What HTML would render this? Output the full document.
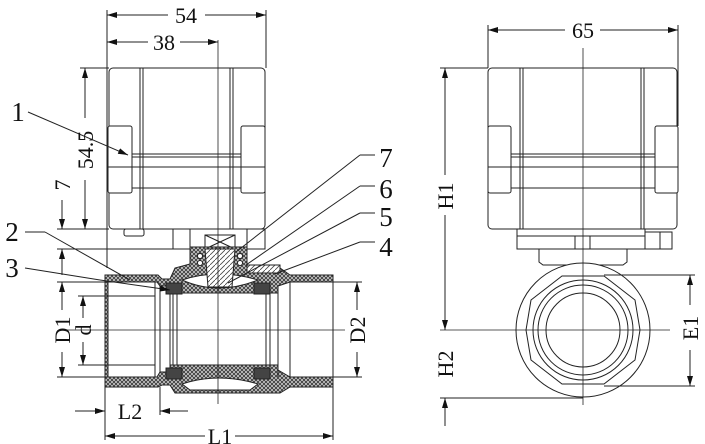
<!DOCTYPE html>
<html><head><meta charset="utf-8"><style>
html,body{margin:0;padding:0;background:#fff;width:705px;height:444px;overflow:hidden}
svg{display:block}
text{font-family:"Liberation Serif",serif;fill:#111}
</style></head><body>
<svg width="705" height="444" viewBox="0 0 705 444" xmlns="http://www.w3.org/2000/svg">
<defs>
<pattern id="h" width="4" height="4" patternUnits="userSpaceOnUse">
<rect width="4" height="4" fill="#ccc"/>
<path d="M0 4L4 0M0 0L4 4" stroke="#333" stroke-width="0.8"/>
</pattern>
<pattern id="s" width="5" height="5" patternUnits="userSpaceOnUse">
<rect width="5" height="5" fill="#fff"/>
<path d="M0 5L5 0" stroke="#444" stroke-width="0.8"/>
</pattern>
<marker id="a" viewBox="0 0 10 6" refX="10" refY="3" markerWidth="10" markerHeight="6" orient="auto-start-reverse" markerUnits="userSpaceOnUse">
<path d="M0 0L10 3L0 6z" fill="#111"/>
</marker>
</defs>
<g stroke="#222" fill="none" stroke-width="1">
<!-- LEFT VIEW ACTUATOR -->
<rect x="109" y="68" width="156" height="161" rx="4"/>
<line x1="140" y1="68" x2="140" y2="229"/><line x1="143" y1="68" x2="143" y2="229"/>
<line x1="230" y1="68" x2="230" y2="229"/><line x1="233" y1="68" x2="233" y2="229"/>
<rect x="108" y="126" width="24" height="67" rx="2" fill="#fff"/>
<rect x="241" y="126" width="24" height="67" rx="2" fill="#fff"/>
<line x1="132" y1="154" x2="241" y2="154"/><line x1="132" y1="157" x2="241" y2="157"/>
<line x1="108" y1="167" x2="265" y2="167"/><line x1="132" y1="188" x2="241" y2="188"/>
<rect x="124" y="229" width="20" height="7" rx="2"/>
<!-- mount -->
<rect x="173" y="229" width="92" height="20"/>
<line x1="190" y1="229" x2="190" y2="249"/><line x1="247" y1="229" x2="247" y2="249"/>
<rect x="205" y="235" width="30" height="14"/>
<line x1="205" y1="235" x2="235" y2="249"/><line x1="235" y1="235" x2="205" y2="249"/>
<!-- BODY -->
<path d="M105 275 L158 275 L162 279 L170 279 L175 268 L190 264 L190 247 L247 247 L247 268 L280 268 L290 275 L333 275 L333 387 L290 387 L280 393 L175 393 L170 385 L162 385 L158 387 L105 387 Z" fill="url(#h)" stroke="#222"/>
<path d="M108 282 L157 282 L160 286 L170 286 L170 293 L278 293 L278 286 L290 282 L333 282 L333 377 L290 377 L278 370 L278 365 L170 365 L170 372 L160 372 L157 377 L108 377 Z" fill="#fff"/>
<line x1="108" y1="282" x2="108" y2="377"/><line x1="155" y1="282" x2="155" y2="377"/>
<line x1="160" y1="286" x2="160" y2="372"/><line x1="170" y1="286" x2="170" y2="372"/>
<line x1="278" y1="286" x2="278" y2="377"/><line x1="290" y1="282" x2="290" y2="377"/>
<line x1="173" y1="293" x2="173" y2="365"/><line x1="177" y1="293" x2="177" y2="365"/>
<line x1="266" y1="293" x2="266" y2="365"/><line x1="270" y1="293" x2="270" y2="365"/>
<!-- ball cavities -->
<path d="M182 280 Q218 296 258 280 Q218 268 182 280 Z" fill="#fff"/>
<path d="M182 384 Q218 372 258 384 L250 390 L190 390 Z" fill="#fff"/>
<!-- seats -->
<rect x="166" y="283" width="16" height="11" fill="#444"/>
<rect x="254" y="283" width="16" height="11" fill="#444"/>
<rect x="166" y="368" width="16" height="11" fill="#444"/>
<rect x="254" y="368" width="16" height="11" fill="#444"/>
<!-- stem -->
<path d="M205 249 L235 249 L232 287 L208 287 Z" fill="url(#s)"/>
<circle cx="200" cy="256" r="2.5" fill="#fff"/><circle cx="200" cy="263" r="2.5" fill="#fff"/>
<circle cx="240" cy="256" r="2.5" fill="#fff"/><circle cx="240" cy="263" r="2.5" fill="#fff"/>
<rect x="247" y="265" width="33" height="8" fill="url(#s)"/>
<!-- center lines -->
<line x1="218" y1="40" x2="218" y2="404" stroke-width="0.8"/>
<line x1="62" y1="330" x2="345" y2="330" stroke-width="0.8"/>
<!-- dims left -->
<line x1="107" y1="10" x2="107" y2="268"/><line x1="266" y1="10" x2="266" y2="68"/>
<line x1="107" y1="15" x2="168" y2="15" marker-start="url(#a)"/><line x1="205" y1="15" x2="266" y2="15" marker-end="url(#a)"/>
<line x1="107" y1="42" x2="148" y2="42" marker-start="url(#a)"/><line x1="180" y1="42" x2="218" y2="42" marker-end="url(#a)"/>
<line x1="80" y1="68" x2="109" y2="68"/><line x1="57" y1="229" x2="109" y2="229"/><line x1="57" y1="249" x2="173" y2="249"/>
<line x1="85" y1="68" x2="85" y2="118" marker-start="url(#a)"/><line x1="85" y1="180" x2="85" y2="229" marker-end="url(#a)"/>
<line x1="62" y1="200" x2="62" y2="229" marker-end="url(#a)"/><line x1="62" y1="249" x2="62" y2="275" marker-start="url(#a)"/>
<line x1="57" y1="282" x2="108" y2="282"/><line x1="57" y1="377" x2="108" y2="377"/>
<line x1="62" y1="282" x2="62" y2="310" marker-start="url(#a)"/><line x1="62" y1="352" x2="62" y2="377" marker-end="url(#a)"/>
<line x1="78" y1="296" x2="155" y2="296"/><line x1="78" y1="365" x2="155" y2="365"/>
<line x1="83" y1="296" x2="83" y2="318" marker-start="url(#a)"/><line x1="83" y1="342" x2="83" y2="365" marker-end="url(#a)"/>
<line x1="333" y1="282" x2="362" y2="282"/><line x1="333" y1="377" x2="362" y2="377"/>
<line x1="357" y1="282" x2="357" y2="310" marker-start="url(#a)"/><line x1="357" y1="352" x2="357" y2="377" marker-end="url(#a)"/>
<line x1="105" y1="387" x2="105" y2="440"/><line x1="160" y1="387" x2="160" y2="415"/><line x1="333" y1="387" x2="333" y2="440"/>
<line x1="75" y1="411" x2="105" y2="411" marker-end="url(#a)"/><line x1="160" y1="411" x2="188" y2="411" marker-start="url(#a)"/>
<line x1="105" y1="436" x2="205" y2="436" marker-start="url(#a)"/><line x1="235" y1="436" x2="333" y2="436" marker-end="url(#a)"/>
<!-- leaders -->
<line x1="28" y1="112" x2="128" y2="155" marker-end="url(#a)"/>
<line x1="25" y1="232" x2="45" y2="232"/><line x1="45" y1="232" x2="130" y2="280"/>
<line x1="25" y1="268" x2="100" y2="280"/><line x1="100" y1="280" x2="170" y2="290" marker-end="url(#a)"/>
<line x1="375" y1="155" x2="360" y2="155"/><line x1="360" y1="155" x2="236" y2="252"/>
<line x1="375" y1="186" x2="360" y2="186"/><line x1="360" y1="186" x2="246" y2="265"/>
<line x1="375" y1="213" x2="360" y2="213"/><line x1="360" y1="213" x2="228" y2="283"/>
<line x1="375" y1="242" x2="360" y2="242"/><line x1="360" y1="242" x2="275" y2="274"/>
<!-- RIGHT VIEW -->
<rect x="488" y="68" width="189" height="161" rx="4"/>
<line x1="520" y1="68" x2="520" y2="229"/><line x1="523" y1="68" x2="523" y2="229"/>
<line x1="641" y1="68" x2="641" y2="229"/><line x1="644" y1="68" x2="644" y2="229"/>
<rect x="488" y="126" width="23" height="67" rx="2" fill="#fff"/>
<rect x="655" y="126" width="23" height="67" rx="2" fill="#fff"/>
<line x1="511" y1="154" x2="655" y2="154"/><line x1="511" y1="157" x2="655" y2="157"/>
<line x1="488" y1="167" x2="678" y2="167"/><line x1="511" y1="188" x2="655" y2="188"/>
<rect x="517" y="229" width="128" height="20"/>
<line x1="517" y1="236" x2="645" y2="236"/>
<line x1="575" y1="236" x2="575" y2="249"/><line x1="590" y1="236" x2="590" y2="249"/>
<rect x="645" y="232" width="27" height="17"/><line x1="660" y1="232" x2="660" y2="249"/>
<path d="M539 249 L539 262 L543 265 L623 265 L627 262 L627 249"/>
<circle cx="583" cy="330" r="67" fill="#fff"/>
<polygon points="562,276 604,276 635,300 640,330 635,360 604,384 562,384 531,360 526,330 531,300"/>
<circle cx="583" cy="330" r="50"/><circle cx="583" cy="330" r="45"/><circle cx="583" cy="330" r="37"/>
<line x1="583" y1="48" x2="583" y2="405" stroke-width="0.8"/>
<line x1="440" y1="330" x2="500" y2="330" stroke-width="0.8"/><line x1="500" y1="330" x2="670" y2="330" stroke-width="0.8"/>
<line x1="488" y1="25" x2="488" y2="68"/><line x1="678" y1="25" x2="678" y2="126"/>
<line x1="488" y1="30" x2="565" y2="30" marker-start="url(#a)"/><line x1="600" y1="30" x2="678" y2="30" marker-end="url(#a)"/>
<line x1="440" y1="68" x2="488" y2="68"/>
<line x1="445" y1="68" x2="445" y2="175" marker-start="url(#a)"/><line x1="445" y1="215" x2="445" y2="330" marker-end="url(#a)"/>
<line x1="440" y1="398" x2="583" y2="398"/>
<line x1="445" y1="398" x2="445" y2="426" marker-start="url(#a)"/>
<line x1="604" y1="275" x2="695" y2="275"/><line x1="604" y1="386" x2="695" y2="386"/>
<line x1="690" y1="275" x2="690" y2="305" marker-start="url(#a)"/><line x1="690" y1="350" x2="690" y2="386" marker-end="url(#a)"/>
</g>
<g font-size="22">
<text x="186" y="23" text-anchor="middle">54</text>
<text x="164" y="50" text-anchor="middle">38</text>
<text x="583" y="38" text-anchor="middle">65</text>
<g font-size="27">
<text x="18" y="121" text-anchor="middle">1</text>
<text x="12" y="241" text-anchor="middle">2</text>
<text x="12" y="277" text-anchor="middle">3</text>
<text x="386" y="167" text-anchor="middle">7</text>
<text x="386" y="198" text-anchor="middle">6</text>
<text x="386" y="226" text-anchor="middle">5</text>
<text x="386" y="256" text-anchor="middle">4</text>
</g>
<text x="130" y="419" text-anchor="middle">L2</text>
<text x="220" y="444" text-anchor="middle">L1</text>
<text transform="translate(93,150) rotate(-90)" text-anchor="middle">54.5</text>
<text transform="translate(70,185) rotate(-90)" text-anchor="middle">7</text>
<text transform="translate(70,330) rotate(-90)" text-anchor="middle">D1</text>
<text transform="translate(91,330) rotate(-90)" text-anchor="middle">d</text>
<text transform="translate(365,330) rotate(-90)" text-anchor="middle">D2</text>
<text transform="translate(453,196) rotate(-90)" text-anchor="middle">H1</text>
<text transform="translate(453,364) rotate(-90)" text-anchor="middle">H2</text>
<text transform="translate(698,328) rotate(-90)" text-anchor="middle">E1</text>
</g>
</svg>
</body></html>
